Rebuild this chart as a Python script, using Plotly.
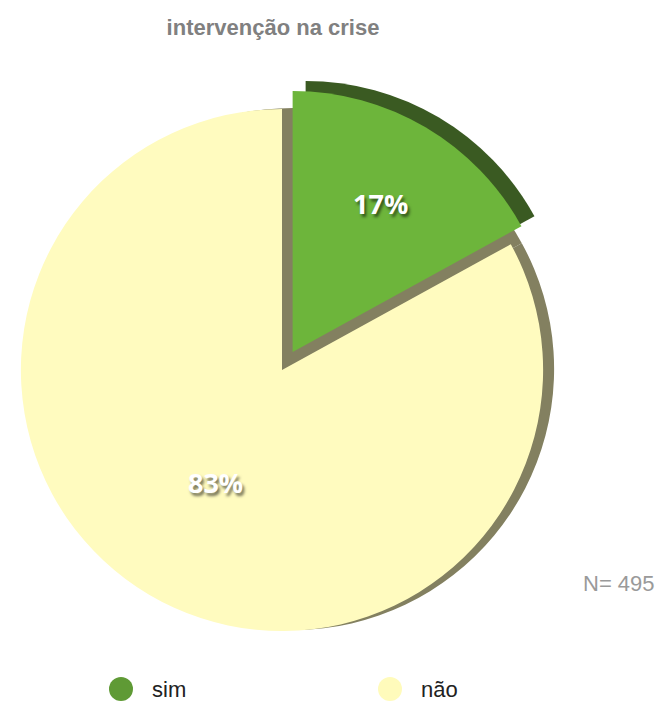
import plotly.graph_objects as go

# dados
categorias = ["sim", "não"]
percentagens = [17, 83]
cores = ["#6db53b", "#fffbbf"]
cor_lateral = "#838060"
cor_lateral_verde = "#3a5a22"
cores_legenda = ["#5f9a35", "#fffbbb"]
titulo = "intervenção na crise"
nota_n = "N= 495"

W, H = 661, 701
PULL = [0.08, 0]
CX, CY, METADE = 282, 370, 282  # centro e meia-largura da caixa da pie (px)


def dominio(dx=0, dy=0, escala=1.0):
    m = METADE * escala
    x0, x1 = CX - m + dx, CX + m + dx
    y0, y1 = CY - m + dy, CY + m + dy
    return dict(x=[max(x0, 0) / W, x1 / W], y=[(H - y1) / H, (H - y0) / H])


fig = go.Figure()

# face lateral (espessura) da pie, sem destacar fatias -> mesmo raio
fig.add_trace(go.Pie(
    labels=categorias, values=percentagens,
    sort=False, direction="clockwise", rotation=0,
    marker=dict(colors=[cor_lateral, cor_lateral], line=dict(width=0)),
    textinfo="none", hoverinfo="skip", showlegend=False,
    domain=dominio(11, -1, 1 / (1 + max(PULL))),
))

# face lateral da fatia verde destacada
fig.add_trace(go.Pie(
    labels=categorias, values=percentagens,
    sort=False, direction="clockwise", rotation=0, pull=PULL,
    marker=dict(colors=[cor_lateral_verde, "rgba(0,0,0,0)"], line=dict(width=0)),
    textinfo="none", hoverinfo="skip", showlegend=False,
    domain=dominio(13, -10),
))

fig.add_trace(go.Pie(
    labels=categorias, values=percentagens,
    sort=False, direction="clockwise", rotation=0, pull=PULL,
    marker=dict(colors=cores, line=dict(width=0)),
    textinfo="percent", textposition="inside",
    insidetextorientation="horizontal",
    textfont=dict(family="Open Sans", size=27, color="white",
                  weight="bold", shadow="2px 3px 3px rgba(0,0,0,0.55)"),
    showlegend=False,
    domain=dominio(),
))

# legenda com círculos
leg_x = [121, 390]
for nome, cor, x in zip(categorias, cores_legenda, leg_x):
    fig.add_shape(type="circle", xref="paper", yref="paper",
                  x0=(x - 12) / W, x1=(x + 12) / W,
                  y0=(H - 689 - 12) / H, y1=(H - 689 + 12) / H,
                  fillcolor=cor, line=dict(width=0))
    fig.add_annotation(text=nome, xref="paper", yref="paper",
                       x=(x + 29) / W, y=(H - 689) / H,
                       xanchor="left", yanchor="middle", showarrow=False,
                       font=dict(family="Liberation Sans", size=22, color="#222222"))

fig.add_annotation(text=nota_n, xref="paper", yref="paper",
                   x=657 / W, y=(H - 583) / H, xanchor="right", yanchor="middle",
                   showarrow=False,
                   font=dict(family="Liberation Sans", size=22, color="#9a9a9a"))

fig.update_layout(
    title=dict(text="<b>" + titulo + "</b>", x=273 / W, xanchor="center",
               y=1 - 27 / H, yanchor="middle",
               font=dict(family="Liberation Sans", size=22, color="#808080")),
    width=W, height=H,
    margin=dict(l=0, r=0, t=0, b=0),
    paper_bgcolor="white",
    plot_bgcolor="white",
)

fig.write_html("out.html", config={"displayModeBar": False},
               post_script="document.body.style.margin='0';")
